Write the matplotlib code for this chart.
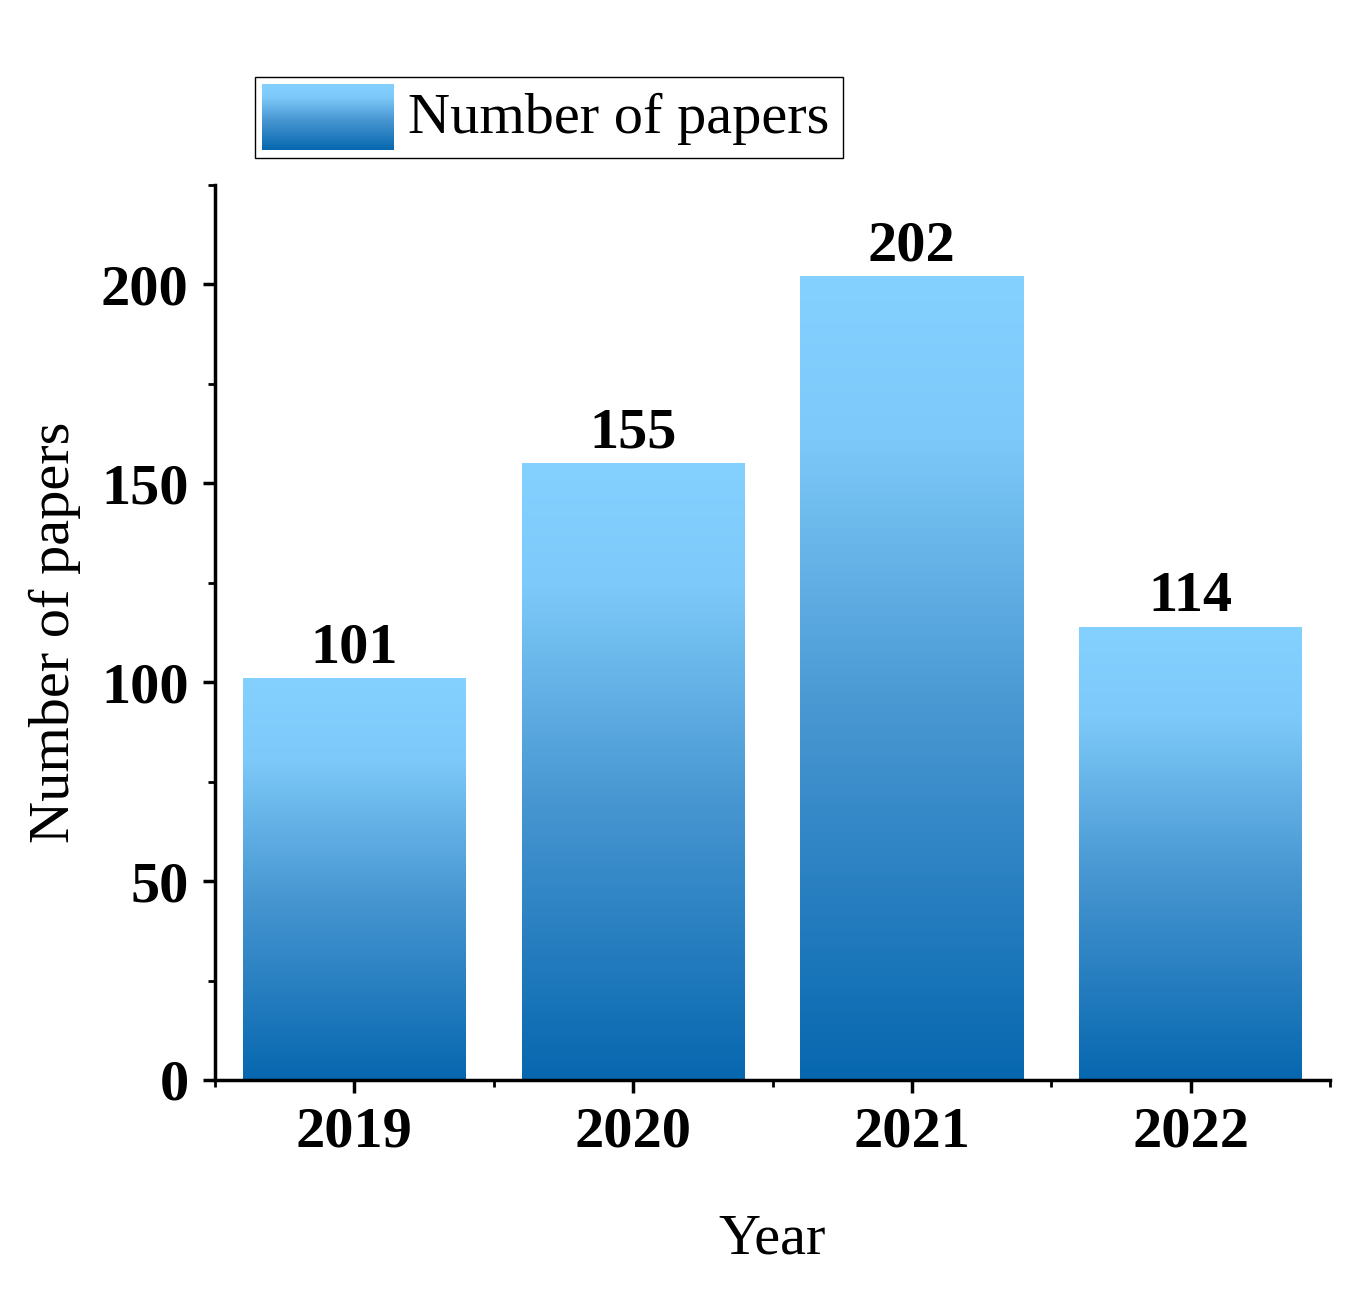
import numpy as np
import matplotlib.pyplot as plt
from matplotlib.colors import LinearSegmentedColormap
from matplotlib.patches import Rectangle
from matplotlib.ticker import MultipleLocator, FixedLocator

years = ['2019', '2020', '2021', '2022']
papers = [101, 155, 202, 114]

plt.rcParams['font.family'] = ['Liberation Serif', 'DejaVu Serif']
cmap = LinearSegmentedColormap.from_list(
    'blu', [(0, '#0767AF'), (0.45, '#4796D1'), (0.8, '#7DC9F9'), (1, '#84D0FF')])
grad = np.linspace(0, 1, 256).reshape(-1, 1)

W, H = 1362, 1304
fig = plt.figure(figsize=(W / 100, H / 100), dpi=100)
ax = fig.add_axes([215 / W, 1 - 1080 / H, 1115 / W, 895 / H])

x = np.arange(len(years))
bars = ax.bar(x, papers, width=0.8, color='none', edgecolor='none')
for b, v in zip(bars, papers):
    x0 = b.get_x()
    im = ax.imshow(grad, cmap=cmap, origin='lower', aspect='auto',
                   extent=[x0, x0 + b.get_width(), 0, v], zorder=2)
    im.set_clip_path(b)
    ax.text(b.get_x() + b.get_width() / 2, v + 1.0, str(v), ha='center', va='bottom',
            fontsize=42, fontweight='bold')

ax.set_xlim(-0.5, 3.5)
ax.set_ylim(0, 225)
ax.set_xticks(x)
ax.set_xticklabels(years, fontsize=42, fontweight='bold')
ax.xaxis.set_minor_locator(FixedLocator([-0.5, 0.5, 1.5, 2.5, 3.5]))
ax.yaxis.set_major_locator(MultipleLocator(50))
ax.yaxis.set_minor_locator(MultipleLocator(25))
for lab in ax.get_yticklabels():
    lab.set_fontsize(42)
    lab.set_fontweight('bold')
ax.tick_params(which='major', direction='out', length=9, width=2.5, pad=10)
ax.tick_params(which='minor', direction='out', length=5, width=2)
for s in ['top', 'right']:
    ax.spines[s].set_visible(False)
for s in ['left', 'bottom']:
    ax.spines[s].set_linewidth(2.5)
ax.set_xlabel('Year', fontsize=42, labelpad=40)
ax.set_ylabel('Number of papers', fontsize=42, labelpad=14)

# legend
fig.patches.append(Rectangle((255 / W, 1 - 158 / H), 588 / W, 81 / H, transform=fig.transFigure,
                             fill=False, edgecolor='black', linewidth=1))
lax = fig.add_axes([262 / W, 1 - 150 / H, 132 / W, 66 / H])
lax.imshow(grad, cmap=cmap, origin='lower', aspect='auto')
lax.axis('off')
fig.text(408 / W, 1 - 119 / H, 'Number of papers', fontsize=42, va='center', ha='left')

fig.savefig('out.png', dpi=100)
